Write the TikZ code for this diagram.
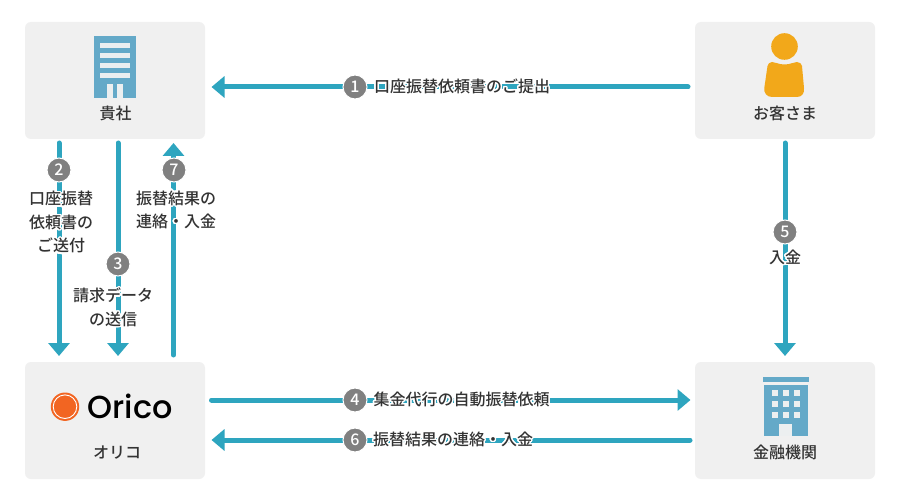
\documentclass[tikz,border=0pt]{standalone}
\usepackage{fontspec}
\usepackage{contour}
\usetikzlibrary{arrows.meta}
\setmainfont{Noto Sans CJK JP Medium}
\newfontfamily\logofont{Poppins Medium}
\contourlength{1.3pt}
\contournumber{32}
\definecolor{flow}{HTML}{2EA5BF}
\definecolor{boxgrey}{HTML}{F0F0F0}
\definecolor{ink}{HTML}{333333}
\definecolor{numgrey}{HTML}{808080}
\definecolor{bldg}{HTML}{64A9C8}
\definecolor{win}{HTML}{ECEFF0}
\definecolor{person}{HTML}{F2A81A}
\definecolor{orico}{HTML}{F26522}
\newcommand{\hl}[1]{\contour{white}{#1}}
\tikzset{
  party/.style={fill=boxgrey,rounded corners=6pt,minimum width=180pt,minimum height=117pt,inner sep=0pt,outer sep=0pt},
  partylabel/.style={text=ink,inner sep=0pt,font=\fontsize{16}{16}\selectfont},
  flowlabel/.style={text=ink,inner sep=0pt,align=center,font=\fontsize{16}{23.5}\selectfont},
  flowline/.style={draw=flow,line width=5pt,line cap=round,-{Triangle[length=13pt,width=21pt]}},
  plainline/.style={draw=flow,line width=5pt,line cap=round},
  num/.style={circle,fill=numgrey,draw=white,line width=1pt,minimum size=24pt,inner sep=0pt,text=white,font=\fontsize{16}{16}\selectfont}
}
\begin{document}
\begin{tikzpicture}[x=1pt,y=-1pt]
\useasboundingbox (0,0) rectangle (900,500);
\fill[white] (0,0) rectangle (900,500);
\node[party] (kisha) at (115,80.5) {};
\node[party] (cust) at (785,80.5) {};
\node[party] (oric) at (115,420.5) {};
\node[party] (bank) at (785,420.5) {};
% connectors
\draw[flowline] ([shift={(-7,6.5)}]cust.west) -- ([shift={(6.5,6.5)}]kisha.east);
\draw[flowline] ([shift={(-56,4)}]kisha.south) -- ([shift={(-56,-6)}]oric.north);
\draw[flowline] ([shift={(3,4)}]kisha.south) -- ([shift={(3,-6)}]oric.north);
\draw[flowline] ([shift={(58.5,-7)}]oric.north) -- ([shift={(58.5,4)}]kisha.south);
\draw[flowline] ([shift={(0,4)}]cust.south) -- ([shift={(0,-6)}]bank.north);
\draw[flowline] ([shift={(6.5,-20.5)}]oric.east) -- ([shift={(-4.5,-20.5)}]bank.west);
\draw[flowline] ([shift={(-5,19.5)}]bank.west) -- ([shift={(6.5,19.5)}]oric.east);
% number badges
\node[num] (n1) at (355,87) {1};
\node[num] (n2) at (59,170) {2};
\node[num] (n3) at (118,264) {3};
\node[num] (n7) at (174,170) {7};
\node[num] (n5) at (785,232) {5};
\node[num] (n4) at (355,400) {4};
\node[num] (n6) at (355,440) {6};
% flow labels
\node[flowlabel] (t1) at (462,87) {\hl{口座振替依頼書のご提出}};
\node[flowlabel] (t2) at (61,223) {\hl{口座振替}\\\hl{依頼書の}\\\hl{ご送付}};
\node[flowlabel] (t3) at (113,308) {\hl{請求データ}\\\hl{の送信}};
\node[flowlabel] (t7) at (176,210.5) {\hl{振替結果の}\\\hl{連絡・入金}};
\node[flowlabel] (t5) at (785,258) {\hl{入金}};
\node[flowlabel] (t4) at (461.5,400) {\hl{集金代行の自動振替依頼}};
\node[flowlabel] (t6) at (453,440) {\hl{振替結果の連絡・入金}};
% party labels
\node[partylabel] (l1) at (115.5,113) {貴社};
\node[partylabel] (l2) at (785,113) {お客さま};
\node[partylabel] (l3) at (117,453) {オリコ};
\node[partylabel] (l4) at (785,452) {金融機関};
% company building icon
\fill[bldg] (94,36) rectangle (136,98);
\foreach \yy in {43,53,63,73} \fill[win] (100,\yy) rectangle (130,\yy+5.3);
\fill[win] (107,84) rectangle (113,98);
\fill[win] (117,84) rectangle (123,98);
% person icon
\fill[person] (784.5,46.5) circle (13.3);
\fill[person] (772,62) .. controls (776,62) and (778,64.5) .. (784.5,64.5) .. controls (791,64.5) and (793,62) .. (797,62)
  .. controls (800,62) and (801.5,64) .. (802,66) -- (804,88) .. controls (804.7,93) and (802,97) .. (797,97)
  -- (772,97) .. controls (767,97) and (763.6,93) .. (764.3,88) -- (767.5,66) .. controls (768,64) and (769.5,62) .. (772,62) -- cycle;
% bank icon
\fill[bldg] (762.7,376.7) rectangle (809,382.3);
\fill[bldg] (764,385) rectangle (807.7,436);
\foreach \yy in {390,401,412} \foreach \xx in {772,783,794}
  \fill[win] (\xx,\yy) rectangle (\xx+5.7,\yy+5.7);
\fill[win] (779.3,423.7) rectangle (792.3,436);
% logo
\fill[orico] (65,406.7) circle (14.2);
\draw[white,line width=0.9pt] (65,406.7) circle (11.8);
\node[inner sep=0pt] (logo) at (130,406.5) {\resizebox{85pt}{!}{\logofont\color{black}Orico}};
\end{tikzpicture}
\end{document}
